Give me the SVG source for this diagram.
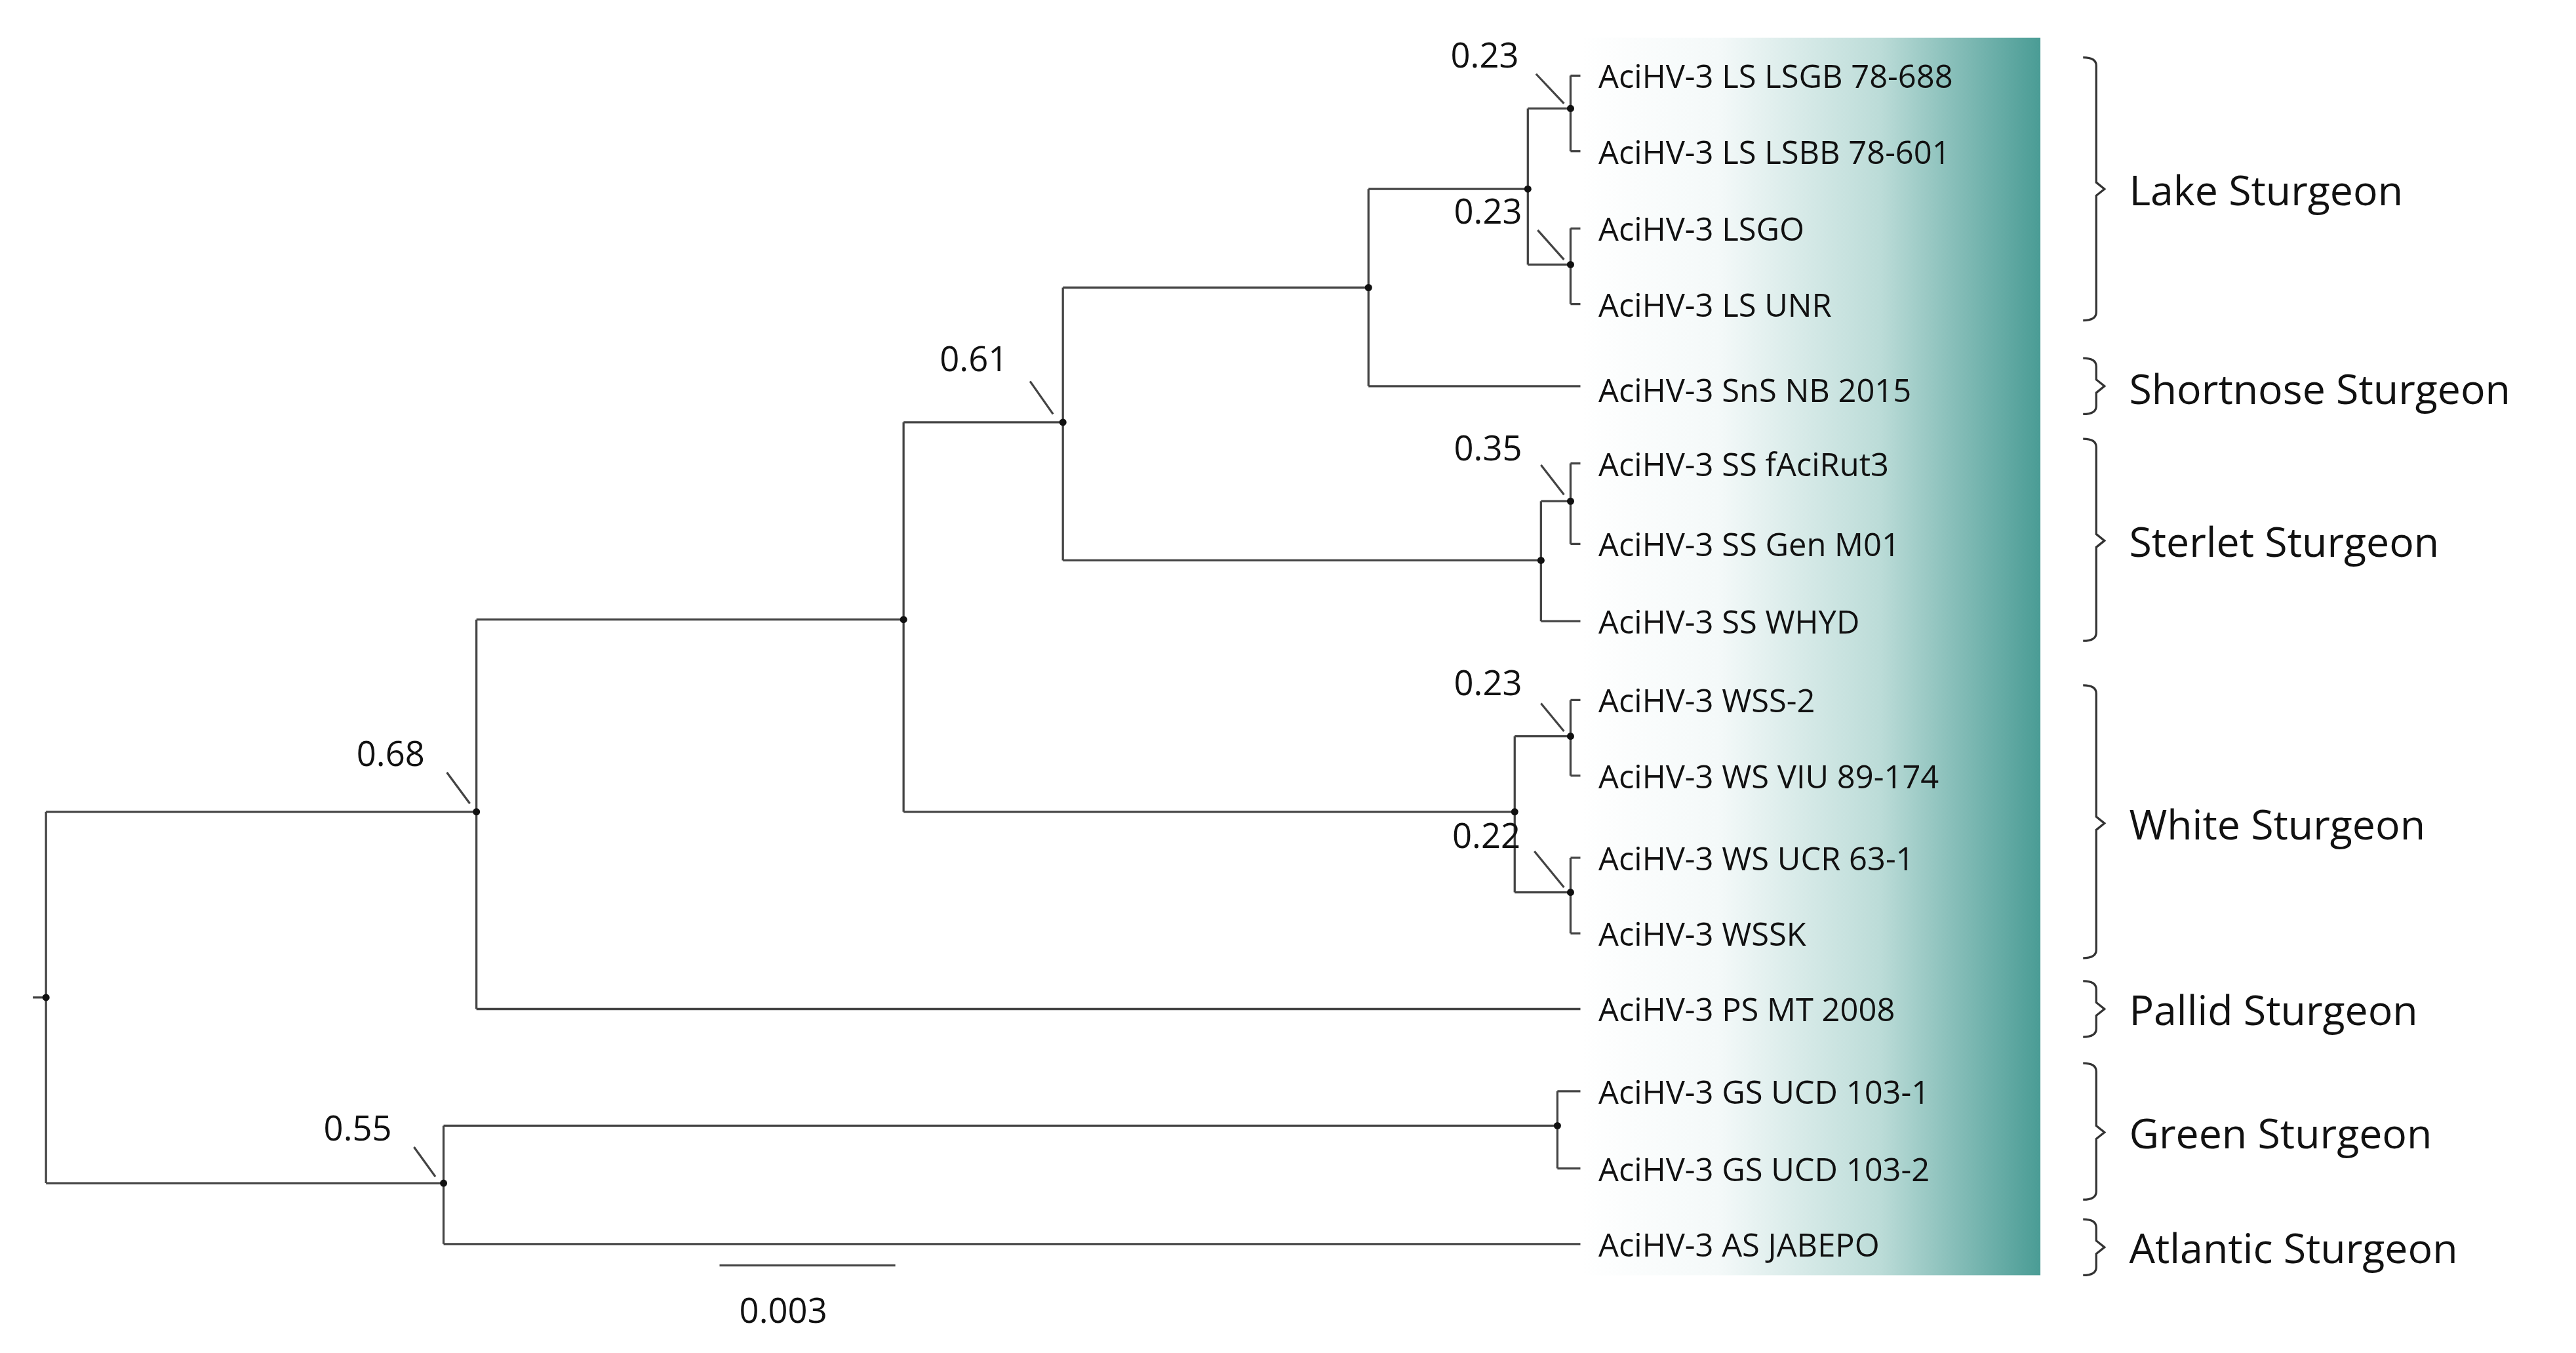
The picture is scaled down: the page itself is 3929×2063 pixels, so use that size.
<svg xmlns="http://www.w3.org/2000/svg" width="3929" height="2063" viewBox="0 0 3929 2063">
<style>
.e{fill:none;stroke:#444;stroke-width:1.3}
.br{fill:none;stroke:#333;stroke-width:1.3}
.lf{font-family:"Open Sans","Liberation Sans",sans-serif;font-size:19.5px;fill:#111;dominant-baseline:central}
.sp{font-family:"Open Sans","Liberation Sans",sans-serif;font-size:21px;fill:#111}
.gp{font-family:"Open Sans","Liberation Sans",sans-serif;font-size:25px;fill:#111;dominant-baseline:central}
.d{fill:#111}
</style>
<defs>
<linearGradient id="g" x1="0" x2="1" y1="0" y2="0">
<stop offset="0" stop-color="#ffffff"/>
<stop offset="0.3" stop-color="#f4f9f9"/>
<stop offset="0.65" stop-color="#bcdcd8"/>
<stop offset="1" stop-color="#4a9c95"/>
</linearGradient>
</defs>
<rect width="3929" height="2063" fill="#fff"/>
<g transform="scale(2.5057)">
<rect x="962" y="23" width="280" height="753" fill="url(#g)"/>
<g id="connectors">
<path class="e" d="M20,607 H28 M28,494 V720 M28,494 H290 M28,720 H270
M290,377 V614 M290,377 H550 M290,614 H962
M550,257 V494 M550,257 H647 M550,494 H922
M647,175 V341 M647,175 H833 M647,341 H938
M833,115 V235 M833,115 H930 M833,235 H962
M930,66 V161 M930,66 H956 M930,161 H956
M956,46 V92 M956,46 H962 M956,92 H962
M956,139 V185 M956,139 H962 M956,185 H962
M938,305 V378 M938,305 H956 M938,378 H962
M956,282 V331 M956,282 H962 M956,331 H962
M922,448 V543 M922,448 H956 M922,543 H956
M956,426 V472 M956,426 H962 M956,472 H962
M956,522 V568 M956,522 H962 M956,568 H962
M270,685 V757 M270,685 H948 M270,757 H962
M948,664 V711 M948,664 H962 M948,711 H962
M438,770 H545"/>
<path class="e" d="M935,45 L952,63 M936,140 L952,158 M627,232 L641,252 M272,470 L286,489 M252,698 L265,716 M938,283 L952,301 M938,428 L952,445 M934,518 L952,540"/>
</g>
<g id="nodes-dots">
<circle class="d" cx="28" cy="607" r="2.2"/><circle class="d" cx="290" cy="494" r="2.2"/>
<circle class="d" cx="550" cy="377" r="2.2"/><circle class="d" cx="647" cy="257" r="2.2"/>
<circle class="d" cx="833" cy="175" r="2.2"/><circle class="d" cx="930" cy="115" r="2.2"/>
<circle class="d" cx="956" cy="66" r="2.2"/><circle class="d" cx="956" cy="161" r="2.2"/>
<circle class="d" cx="938" cy="341" r="2.2"/><circle class="d" cx="956" cy="305" r="2.2"/>
<circle class="d" cx="922" cy="494" r="2.2"/><circle class="d" cx="956" cy="448" r="2.2"/>
<circle class="d" cx="956" cy="543" r="2.2"/><circle class="d" cx="270" cy="720" r="2.2"/>
<circle class="d" cx="948" cy="685" r="2.2"/>
</g>
<g id="support">
<text class="sp" x="883" y="41">0.23</text>
<text class="sp" x="885" y="136">0.23</text>
<text class="sp" x="572" y="226">0.61</text>
<text class="sp" x="217" y="466">0.68</text>
<text class="sp" x="197" y="694">0.55</text>
<text class="sp" x="885" y="280">0.35</text>
<text class="sp" x="885" y="423">0.23</text>
<text class="sp" x="884" y="516">0.22</text>
<text class="sp" x="450" y="805">0.003</text>
</g>
<g id="leaves">
<text class="lf" x="973" y="46">AciHV-3 LS LSGB 78-688</text>
<text class="lf" x="973" y="92">AciHV-3 LS LSBB 78-601</text>
<text class="lf" x="973" y="139">AciHV-3 LSGO</text>
<text class="lf" x="973" y="185">AciHV-3 LS UNR</text>
<text class="lf" x="973" y="237">AciHV-3 SnS NB 2015</text>
<text class="lf" x="973" y="282">AciHV-3 SS fAciRut3</text>
<text class="lf" x="973" y="331">AciHV-3 SS Gen M01</text>
<text class="lf" x="973" y="378">AciHV-3 SS WHYD</text>
<text class="lf" x="973" y="426">AciHV-3 WSS-2</text>
<text class="lf" x="973" y="472">AciHV-3 WS VIU 89-174</text>
<text class="lf" x="973" y="522">AciHV-3 WS UCR 63-1</text>
<text class="lf" x="973" y="568">AciHV-3 WSSK</text>
<text class="lf" x="973" y="614">AciHV-3 PS MT 2008</text>
<text class="lf" x="973" y="664">AciHV-3 GS UCD 103-1</text>
<text class="lf" x="973" y="711">AciHV-3 GS UCD 103-2</text>
<text class="lf" x="973" y="757">AciHV-3 AS JABEPO</text>
</g>
<g id="groups">
<path class="br" d="M1268,35 Q1276,35 1276,40 V111 L1281,115 L1276,119 V190 Q1276,195 1268,195"/>
<path class="br" d="M1268,218 Q1276,218 1276,223 V231 L1281,235 L1276,239 V247 Q1276,252 1268,252"/>
<path class="br" d="M1268,267 Q1276,267 1276,272 V325 L1281,329 L1276,333 V385 Q1276,390 1268,390"/>
<path class="br" d="M1268,417 Q1276,417 1276,422 V497 L1281,501 L1276,505 V578 Q1276,583 1268,583"/>
<path class="br" d="M1268,597 Q1276,597 1276,602 V610 L1281,614 L1276,618 V626 Q1276,631 1268,631"/>
<path class="br" d="M1268,647 Q1276,647 1276,652 V685 L1281,689 L1276,693 V725 Q1276,730 1268,730"/>
<path class="br" d="M1268,742 Q1276,742 1276,747 V755 L1281,759 L1276,763 V771 Q1276,776 1268,776"/>
<text class="gp" x="1296" y="115">Lake Sturgeon</text>
<text class="gp" x="1296" y="236">Shortnose Sturgeon</text>
<text class="gp" x="1296" y="329">Sterlet Sturgeon</text>
<text class="gp" x="1296" y="501">White Sturgeon</text>
<text class="gp" x="1296" y="614">Pallid Sturgeon</text>
<text class="gp" x="1296" y="689">Green Sturgeon</text>
<text class="gp" x="1296" y="759">Atlantic Sturgeon</text>
</g>
</g>
</svg>
